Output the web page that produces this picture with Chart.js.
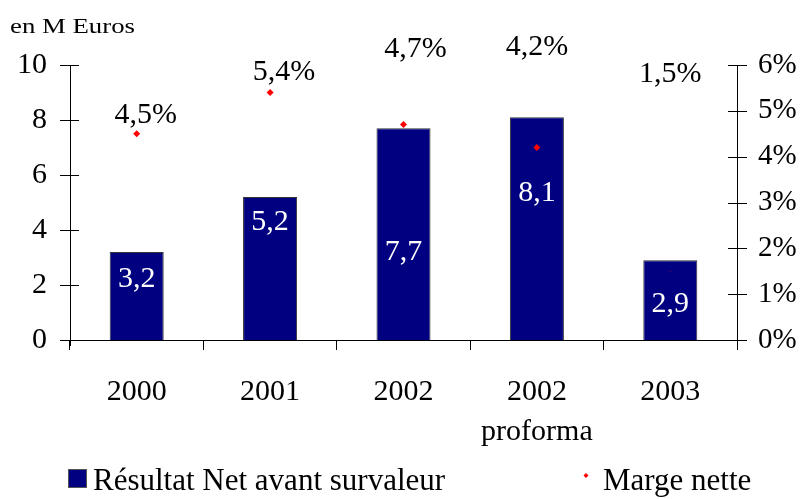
<!DOCTYPE html>
<html>
<head>
<meta charset="utf-8">
<script src="https://cdn.jsdelivr.net/npm/chart.js@4/dist/chart.umd.min.js"></script>
<style>
  body { margin: 0; background: #fff; }
  #wrap { width: 800px; height: 499px; position: relative; }
</style>
</head>
<body>
<div id="wrap"><canvas id="chart"></canvas></div>
<script>
const categories = ["2000", "2001", "2002", ["2002", "proforma"], "2003"];
const resultat = [3.2, 5.2, 7.7, 8.1, 2.9];     // M Euros
const marge = [4.5, 5.4, 4.7, 4.2, 1.5];        // %
const leftMax = 10, leftStep = 2;
const rightMax = 6, rightStep = 1;

// where the labels sit, in axis units (as in the original)
const valueLabelAt = [2.2, 4.3, 3.2, 5.35, 1.3];
const margeLabelAt = [4.9, 5.85, 6.35, 6.4, 5.8];
const margeLabelDx = [9, 14, 12, 0, 0];

const serif = "'Liberation Serif', 'Times New Roman', serif";
const fmt = v => String(v).replace(".", ",");

const overlay = {
  id: "overlay",
  afterDraw(chart) {
    const ctx = chart.ctx;
    const x = chart.scales.x, y = chart.scales.y, y2 = chart.scales.y2;
    ctx.save();
    ctx.strokeStyle = "#000";
    ctx.lineWidth = 1;
    // crossing tick marks on both value axes
    ctx.beginPath();
    for (let v = 0; v <= leftMax; v += leftStep) {
      const py = Math.round(y.getPixelForValue(v)) + 0.5;
      ctx.moveTo(x.left - 10, py); ctx.lineTo(x.left + 9, py);
    }
    for (let v = 0; v <= rightMax; v += rightStep) {
      const py = Math.round(y2.getPixelForValue(v)) + 0.5;
      ctx.moveTo(x.right - 9, py); ctx.lineTo(x.right + 10, py);
    }
    ctx.moveTo(Math.round(x.left) + 0.5, y.bottom); ctx.lineTo(Math.round(x.left) + 0.5, y.bottom + 6);
    ctx.moveTo(Math.round(x.right) + 0.5, y.bottom); ctx.lineTo(Math.round(x.right) + 0.5, y.bottom + 6);
    ctx.stroke();

    // value labels inside bars
    ctx.font = "30px " + serif;
    ctx.textAlign = "center";
    ctx.textBaseline = "middle";
    ctx.fillStyle = "#fff";
    resultat.forEach((v, i) => {
      ctx.fillText(fmt(v), x.getPixelForValue(i), y.getPixelForValue(valueLabelAt[i]));
    });
    // margin labels
    ctx.fillStyle = "#000";
    marge.forEach((v, i) => {
      ctx.fillText(fmt(v) + "%", x.getPixelForValue(i) + margeLabelDx[i], y2.getPixelForValue(margeLabelAt[i]));
    });

    // unit title (wide face in the original)
    ctx.textAlign = "left";
    ctx.textBaseline = "alphabetic";
    ctx.font = "21px " + serif;
    const title = "en M Euros";
    const tw = ctx.measureText(title).width;
    ctx.save();
    ctx.translate(10, 33);
    ctx.scale(125 / tw, 1);
    ctx.fillText(title, 0, 0);
    ctx.restore();

    // legend
    ctx.fillStyle = "#000080";
    ctx.fillRect(68, 469, 19, 19);
    ctx.strokeStyle = "#555";
    ctx.strokeRect(68.5, 469.5, 18, 18);
    ctx.fillStyle = "#000";
    ctx.font = "31px " + serif;
    ctx.fillText(chart.data.datasets[1].label, 93, 490);
    ctx.fillStyle = "red";
    ctx.beginPath();
    ctx.moveTo(586, 473); ctx.lineTo(588.5, 475.5); ctx.lineTo(586, 478); ctx.lineTo(583.5, 475.5);
    ctx.fill();
    ctx.fillStyle = "#000";
    ctx.fillText(chart.data.datasets[0].label, 603, 490);
    ctx.restore();
  }
};

new Chart(document.getElementById("chart"), {
  data: {
    labels: categories,
    datasets: [
      {
        type: "line",
        label: "Marge nette",
        data: marge,
        yAxisID: "y2",
        showLine: false,
        pointStyle: "rectRot",
        pointRadius: [3.5, 3.5, 3.5, 3.5, 0.6],
        backgroundColor: "red",
        borderColor: "red",
        borderWidth: 0,
        order: 0
      },
      {
        type: "bar",
        label: "Résultat Net avant survaleur",
        data: resultat,
        yAxisID: "y",
        backgroundColor: "#000080",
        borderColor: "#333",
        borderWidth: 1,
        barPercentage: 0.405,
        categoryPercentage: 1,
        order: 1
      }
    ]
  },
  options: {
    responsive: true,
    maintainAspectRatio: false,
    animation: false,
    layout: { padding: { top: 65, left: 0, right: 0, bottom: 0 } },
    plugins: { legend: { display: false }, tooltip: { enabled: false } },
    scales: {
      x: {
        grid: { display: true, drawOnChartArea: false, drawTicks: true, tickLength: 10, color: "#000", offset: true },
        border: { display: true, color: "#000" },
        ticks: { color: "#000", font: { family: serif, size: 30, lineHeight: 1.33 }, padding: 22, maxRotation: 0 },
        afterFit: s => { s.height = 159; }
      },
      y: {
        position: "left",
        min: 0, max: leftMax,
        grid: { display: false, drawTicks: false },
        border: { display: true, color: "#000" },
        ticks: { stepSize: leftStep, color: "#000", font: { family: serif, size: 30 }, padding: 23 },
        afterFit: s => { s.width = 70; }
      },
      y2: {
        position: "right",
        min: 0, max: rightMax,
        grid: { display: false, drawTicks: false },
        border: { display: true, color: "#000" },
        ticks: { stepSize: rightStep, color: "#000", font: { family: serif, size: 29 }, padding: 21, callback: v => v + "%" },
        afterFit: s => { s.width = 63; }
      }
    }
  },
  plugins: [overlay]
});
</script>
</body>
</html>
